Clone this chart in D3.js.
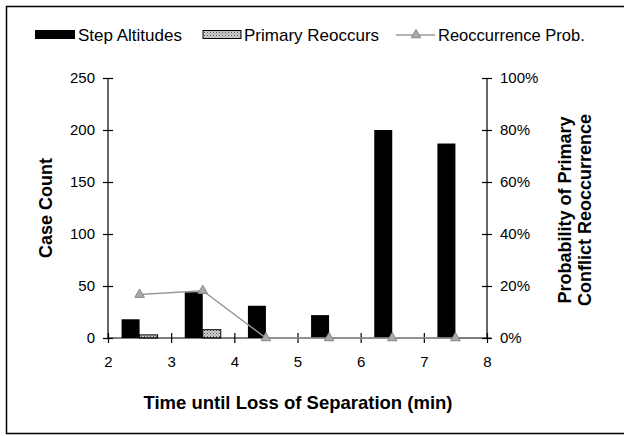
<!DOCTYPE html>
<html>
<head>
<meta charset="utf-8">
<script src="https://cdn.jsdelivr.net/npm/d3@7"></script>
<style>
  body { margin: 0; background: #fff; }
  text { font-family: Arial, "Liberation Sans", sans-serif; fill: #000; }
</style>
</head>
<body>
<script>
// categories sit half way between the integer ticks
var times = [2.5, 3.5, 4.5, 5.5, 6.5, 7.5];
var stepAltitudes = [18, 44, 31, 22, 200, 187];
var primaryReoccurs = [3, 8, 0, 0, 0, 0];
var reoccurProb = [0.167, 0.182, 0, 0, 0, 0];
var xTicks = [2, 3, 4, 5, 6, 7, 8];
var yTicks = [0, 50, 100, 150, 200, 250];
var y2Ticks = [0, 0.2, 0.4, 0.6, 0.8, 1.0];

function drawChart() {
    var width = 625, height = 436;
    var plotLeft = 108, plotRight = 487, plotTop = 78, plotBottom = 338;
    var barW = 18;
    var tickFont = 15;
    var font = "Arial, 'Liberation Sans', sans-serif";

    var svg = d3.select("body").append("svg")
        .attr("width", width)
        .attr("height", height);

    var defs = svg.append("defs");
    var pat = defs.append("pattern")
        .attr("id", "hatch")
        .attr("width", 3).attr("height", 3)
        .attr("patternUnits", "userSpaceOnUse");
    pat.append("rect").attr("width", 3).attr("height", 3).attr("fill", "#d0d0d0");
    pat.append("rect").attr("width", 1).attr("height", 1).attr("fill", "#555");
    pat.append("rect").attr("x", 1.5).attr("y", 1.5).attr("width", 1).attr("height", 1).attr("fill", "#777");

    // outer frame (left, top, bottom only)
    svg.append("path")
        .attr("d", "M624,6.5 H6.5 V433.5 H624")
        .attr("fill", "none")
        .attr("stroke", "#000")
        .attr("stroke-width", 1.5);

    var x = d3.scaleLinear().domain([2, 8]).range([plotLeft, plotRight]);
    var y = d3.scaleLinear().domain([0, 250]).range([plotBottom, plotTop]);
    var y2 = d3.scaleLinear().domain([0, 1]).range([plotBottom, plotTop]);

    // bars
    svg.selectAll(".step")
        .data(stepAltitudes)
        .enter().append("rect")
        .attr("class", "step")
        .attr("x", function(d, i){ return x(times[i]) - barW; })
        .attr("y", function(d){ return y(d); })
        .attr("width", barW)
        .attr("height", function(d){ return plotBottom - y(d); })
        .attr("fill", "#000");

    svg.selectAll(".prim")
        .data(primaryReoccurs)
        .enter().append("rect")
        .attr("class", "prim")
        .attr("x", function(d, i){ return x(times[i]); })
        .attr("y", function(d){ return y(d); })
        .attr("width", barW)
        .attr("height", function(d){ return plotBottom - y(d); })
        .attr("fill", "url(#hatch)")
        .attr("stroke", "#000")
        .attr("stroke-width", 1)
        .style("display", function(d){ return d > 0 ? null : "none"; });

    // axes
    var xAxis = d3.axisBottom(x).tickValues(xTicks).tickFormat(d3.format("d")).tickSize(5).tickPadding(13);
    var gx = svg.append("g").attr("transform", "translate(0," + plotBottom + ")").call(xAxis);
    gx.select(".domain").remove();
    gx.append("line").attr("x1", plotLeft).attr("x2", plotRight + 4).attr("stroke", "#000").attr("stroke-width", 1.2);
    gx.selectAll(".tick line").attr("y1", -5).attr("y2", 5).attr("stroke-width", 1.2);
    gx.selectAll(".tick text").attr("font-size", tickFont).attr("font-family", font).attr("fill", "#000");

    var yAxis = d3.axisLeft(y).tickValues(yTicks).tickSize(5).tickPadding(8);
    var gy = svg.append("g").attr("transform", "translate(" + plotLeft + ",0)").call(yAxis);
    gy.select(".domain").remove();
    gy.append("line").attr("y1", plotTop).attr("y2", plotBottom).attr("stroke", "#000").attr("stroke-width", 1.2);
    gy.selectAll(".tick line").attr("x1", -5).attr("x2", 5).attr("stroke-width", 1.2);
    gy.selectAll(".tick text").attr("font-size", tickFont).attr("font-family", font).attr("fill", "#000");

    var yAxis2 = d3.axisRight(y2).tickValues(y2Ticks).tickFormat(d3.format(".0%")).tickSize(5).tickPadding(8);
    var gy2 = svg.append("g").attr("transform", "translate(" + plotRight + ",0)").call(yAxis2);
    gy2.select(".domain").remove();
    gy2.append("line").attr("y1", plotTop).attr("y2", plotBottom).attr("stroke", "#000").attr("stroke-width", 1.2);
    gy2.selectAll(".tick line").attr("x1", -5).attr("x2", 5).attr("stroke-width", 1.2);
    gy2.selectAll(".tick text").attr("font-size", tickFont).attr("font-family", font).attr("fill", "#000");

    // probability line
    var line = d3.line()
        .x(function(d, i){ return x(times[i]); })
        .y(function(d){ return y2(d); });
    svg.append("path")
        .datum(reoccurProb)
        .attr("d", line)
        .attr("fill", "none")
        .attr("stroke", "#999")
        .attr("stroke-width", 1.5);

    var tri = d3.symbol().type(d3.symbolTriangle).size(40);
    svg.selectAll(".mark")
        .data(reoccurProb)
        .enter().append("path")
        .attr("class", "mark")
        .attr("transform", function(d, i){ return "translate(" + x(times[i]) + "," + y2(d) + ")"; })
        .attr("d", tri)
        .attr("fill", "#aaa")
        .attr("stroke", "#888")
        .attr("stroke-width", 1);

    // axis titles
    svg.append("text")
        .attr("transform", "translate(52,208) rotate(-90)")
        .attr("text-anchor", "middle")
        .attr("font-size", 18)
        .attr("font-weight", "bold")
        .text("Case Count");

    svg.append("text")
        .attr("x", 298).attr("y", 409)
        .attr("text-anchor", "middle")
        .attr("font-size", 18.5)
        .attr("font-weight", "bold")
        .text("Time until Loss of Separation (min)");

    var t2 = svg.append("text")
        .attr("transform", "translate(571,210) rotate(-90)")
        .attr("text-anchor", "middle")
        .attr("font-size", 18)
        .attr("font-weight", "bold");
    t2.append("tspan").attr("x", 0).attr("dy", 0).text("Probability of Primary");
    t2.append("tspan").attr("x", 0).attr("dy", 20).text("Conflict Reoccurrence");

    // legend
    var lg = svg.append("g").attr("transform", "translate(0,35)");
    lg.append("rect").attr("x", 35).attr("y", -5).attr("width", 40).attr("height", 9).attr("fill", "#000");
    lg.append("text").attr("x", 78).attr("y", 6).attr("font-size", 17).text("Step Altitudes");
    lg.append("rect").attr("x", 203).attr("y", -4.5).attr("width", 38).attr("height", 8).attr("fill", "url(#hatch)").attr("stroke", "#000").attr("stroke-width", 1);
    lg.append("text").attr("x", 244).attr("y", 6).attr("font-size", 17).text("Primary Reoccurs");
    lg.append("line").attr("x1", 396).attr("x2", 435).attr("y1", 0).attr("y2", 0).attr("stroke", "#999").attr("stroke-width", 1.5);
    lg.append("path").attr("transform", "translate(416,0)").attr("d", tri).attr("fill", "#aaa").attr("stroke", "#888");
    lg.append("text").attr("x", 438).attr("y", 6).attr("font-size", 16.5).text("Reoccurrence Prob.");
}

drawChart();
</script>
</body>
</html>
